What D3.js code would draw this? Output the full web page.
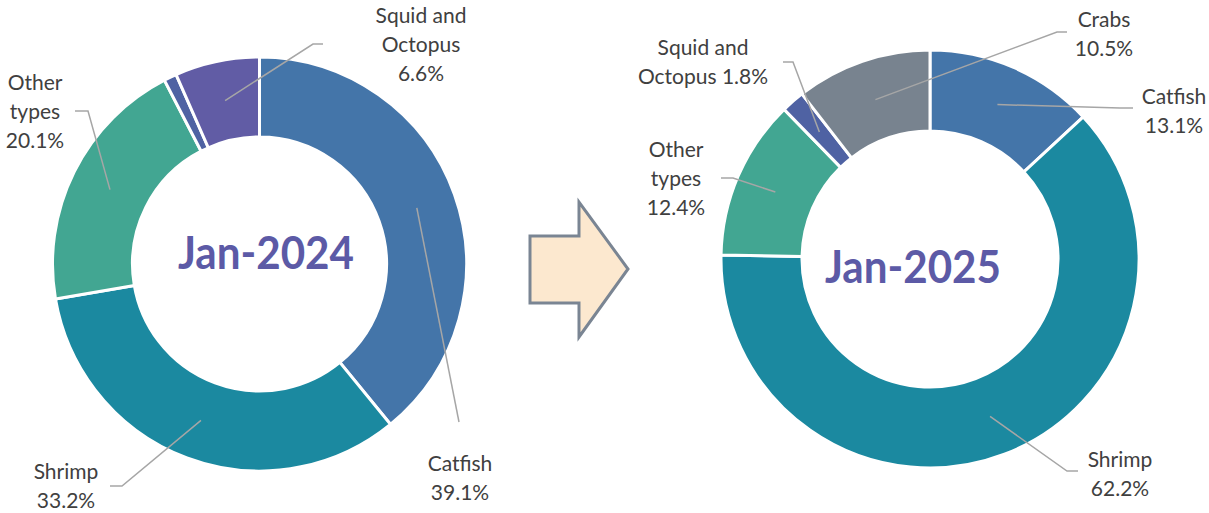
<!DOCTYPE html>
<html>
<head>
<meta charset="utf-8">
<script src="https://cdn.jsdelivr.net/npm/d3@7"></script>
<style>
  body { margin: 0; background: #fff; }
  svg { display: block; }
  .lbl { font-family: Lato, "Open Sans", sans-serif; font-size: 21px; fill: #404040; }
  .center { font-family: Lato, "Open Sans", sans-serif; font-weight: bold; fill: #5c5aa6; }
</style>
</head>
<body>
<div id="chart"></div>
<script>
// data
const categories2024 = ["Catfish", "Shrimp", "Other types", "Crabs", "Squid and Octopus"];
const values2024 = [39.1, 33.2, 20.1, 1.0, 6.6];
const categories2025 = ["Catfish", "Shrimp", "Other types", "Squid and Octopus", "Crabs"];
const values2025 = [13.1, 62.2, 12.4, 1.8, 10.5];
const periods = ["Jan-2024", "Jan-2025"];

const colors2024 = ["#4475a9", "#1b89a0", "#42a692", "#4f62a3", "#615ca5"];
const colors2025 = ["#4475a9", "#1b89a0", "#42a692", "#4f62a3", "#78838f"];

// how each label is broken into lines (value added as "%")
const labelLines2024 = {
    "Catfish": [["Catfish"], "new"],
    "Shrimp": [["Shrimp"], "new"],
    "Other types": [["Other", "types"], "new"],
    "Squid and Octopus": [["Squid and", "Octopus"], "new"]
};
const labelLines2025 = {
    "Catfish": [["Catfish"], "new"],
    "Shrimp": [["Shrimp"], "new"],
    "Other types": [["Other", "types"], "new"],
    "Squid and Octopus": [["Squid and", "Octopus"], "same"],
    "Crabs": [["Crabs"], "new"]
};

// layout (hand placed labels like in the original)
const W = 1209, H = 513;
const charts = [
    {
        cats: categories2024, vals: values2024, colors: colors2024, lines: labelLines2024,
        title: periods[0], cx: 259.5, cy: 264, r0: 127, r1: 207,
        titleX: 266, titleY: 269,
        labels: {
            "Catfish": { x: 460, y: 471, path: [[459, 422]] },
            "Shrimp": { x: 66, y: 479, path: [[122, 486], [110, 486]] },
            "Other types": { x: 35, y: 90, path: [[88, 111], [75, 111]] },
            "Squid and Octopus": { x: 421, y: 23, path: [[313, 44], [323, 44]] }
        }
    },
    {
        cats: categories2025, vals: values2025, colors: colors2025, lines: labelLines2025,
        title: periods[1], cx: 930, cy: 259, r0: 128, r1: 209,
        titleX: 913, titleY: 283,
        labels: {
            "Catfish": { x: 1174, y: 104, path: [[1120, 108], [1133, 108]] },
            "Shrimp": { x: 1120, y: 467, path: [[1067, 471], [1078, 471]] },
            "Other types": { x: 676, y: 157, path: [[733, 178], [721, 178]] },
            "Squid and Octopus": { x: 703, y: 55, path: [[793, 62], [783, 62]] },
            "Crabs": { x: 1104, y: 27, path: [[1057, 32], [1067, 32]] }
        }
    }
];

const svg = d3.select("#chart").append("svg")
    .attr("width", W)
    .attr("height", H);

// arrow between the two donuts
svg.append("path")
    .attr("d", "M530,236 L579,236 L579,202 L628,269 L579,337 L579,303 L530,303 Z")
    .attr("fill", "#fce8cf")
    .attr("stroke", "#7a8593")
    .attr("stroke-width", 3)
    .attr("stroke-linejoin", "miter");

const pie = d3.pie().sort(null).value(d => d.v);

charts.forEach(c => {
    let rows = c.cats.map((k, i) => ({ k: k, v: c.vals[i], col: c.colors[i] }));
    let arcs = pie(rows);

    let arc = d3.arc().innerRadius(c.r0).outerRadius(c.r1);

    let g = svg.append("g")
        .attr("transform", `translate(${c.cx},${c.cy})`);

    g.selectAll("path.slice")
        .data(arcs)
        .enter()
        .append("path")
        .attr("class", "slice")
        .attr("d", arc)
        .attr("fill", d => d.data.col)
        .attr("stroke", "#fff")
        .attr("stroke-width", 3)
        .attr("stroke-linejoin", "miter");

    // leader lines start at centroid of each slice
    arcs.forEach(d => {
        let lab = c.labels[d.data.k];
        if (!lab) return;
        let cen = arc.centroid(d);
        let pts = [[c.cx + cen[0], c.cy + cen[1]]].concat(lab.path);
        svg.append("path")
            .attr("d", d3.line()(pts))
            .attr("fill", "none")
            .attr("stroke", "#a6a6a6")
            .attr("stroke-width", 1.5);

        let spec = c.lines[d.data.k];
        let txt = spec[0].slice();
        let pct = d.data.v.toFixed(1) + "%";
        if (spec[1] === "same") txt[txt.length - 1] += " " + pct;
        else txt.push(pct);

        let t = svg.append("text")
            .attr("class", "lbl")
            .attr("text-anchor", "middle");
        txt.forEach((s, i) => {
            t.append("tspan")
                .attr("x", lab.x)
                .attr("y", lab.y + i * 29)
                .text(s);
        });
    });

    svg.append("text")
        .attr("class", "center")
        .attr("x", c.titleX)
        .attr("y", c.titleY)
        .attr("text-anchor", "middle")
        .style("font-size", "46px")
        .attr("textLength", 176)
        .attr("lengthAdjust", "spacingAndGlyphs")
        .text(c.title);
});
</script>
</body>
</html>
